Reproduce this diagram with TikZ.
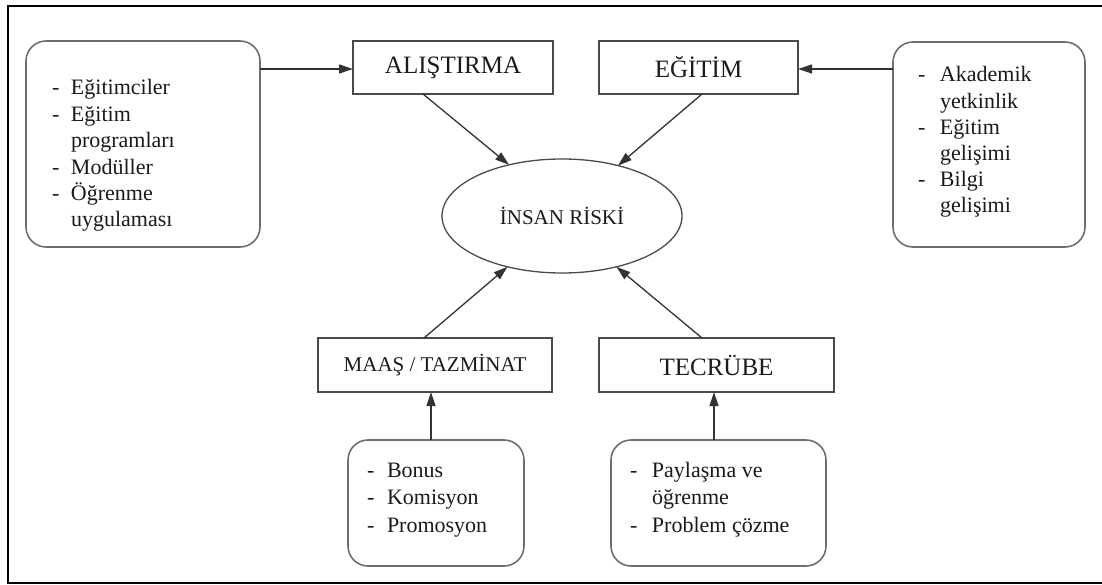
\documentclass[tikz,border=0pt]{standalone}
\usepackage{fontspec}
\setmainfont{Liberation Serif}
\usetikzlibrary{arrows.meta,shapes.geometric,calc}
\definecolor{txt}{HTML}{1A1A1A}
\definecolor{boxline}{HTML}{4A4A4A}
\definecolor{rline}{HTML}{6E6E6E}
\definecolor{arrline}{HTML}{333333}
\tikzset{
  rbox/.style={draw=boxline, line width=1.5pt, inner sep=0pt, outer sep=0pt, text=txt},
  listbox/.style={draw=rline, line width=1.6pt, rounded corners=20pt, inner sep=0pt, outer sep=0pt},
  listtext/.style={inner sep=0pt, outer sep=0pt, text=txt, anchor=base west, align=left},
  arr/.style={draw=arrline, line width=1.3pt, -{Triangle[length=14pt,width=9pt]}},
}
\begin{document}
\begin{tikzpicture}[x=1pt,y=-1pt]
\useasboundingbox (0,0) rectangle (1102,585);
% outer frame (right edge lies outside the picture)
\draw[line width=2pt, black] (1110,6) -- (8,6) -- (8,583) -- (1110,583);

% main nodes
\node[rbox, minimum width=200pt, minimum height=53pt, font=\fontsize{25}{30}\selectfont] (al) at (453,67.5) {ALIŞTIRMA};
\node[rbox, minimum width=199pt, minimum height=53pt, font=\fontsize{25}{30}\selectfont] (eg) at (698.5,67.5) {EĞİTİM};
\node[draw=boxline, line width=1.3pt, ellipse, inner sep=0pt, outer sep=0pt, minimum width=240pt, minimum height=114pt, text=txt, font=\fontsize{21}{25}\selectfont] (el) at (562,216) {İNSAN RİSKİ};
\node[rbox, minimum width=234pt, minimum height=54pt, font=\fontsize{21}{25}\selectfont] (ms) at (435,365) {MAAŞ / TAZMİNAT};
\node[rbox, minimum width=235pt, minimum height=54pt, font=\fontsize{25}{30}\selectfont] (tc) at (716.5,365) {TECRÜBE};

% rounded list boxes
\node[listbox, minimum width=234pt, minimum height=206pt] (lb) at (143,144) {};
\node[listbox, minimum width=192pt, minimum height=205pt] (rb) at (989,144.5) {};
\node[listbox, minimum width=176pt, minimum height=126pt] (pb) at (436,503) {};
\node[listbox, minimum width=215pt, minimum height=126pt] (tb) at (718.5,503) {};

% list texts
\node[listtext, font=\fontsize{22}{26.4}\selectfont] (lbt) at (52,95)
  {\begin{tabular}[t]{@{}p{19pt}@{}l@{}}
   - & Eğitimciler\\
   - & Eğitim\\
     & programları\\
   - & Modüller\\
   - & Öğrenme\\
     & uygulaması
   \end{tabular}};
\node[listtext, font=\fontsize{22}{26.2}\selectfont] (rbt) at (918,82)
  {\begin{tabular}[t]{@{}p{22pt}@{}l@{}}
   - & Akademik\\
     & yetkinlik\\
   - & Eğitim\\
     & gelişimi\\
   - & Bilgi\\
     & gelişimi
   \end{tabular}};
\node[listtext, font=\fontsize{22}{27.5}\selectfont] (pbt) at (367,477)
  {\begin{tabular}[t]{@{}p{20pt}@{}l@{}}
   - & Bonus\\
   - & Komisyon\\
   - & Promosyon
   \end{tabular}};
\node[listtext, font=\fontsize{22}{27.5}\selectfont] (tbt) at (630,477)
  {\begin{tabular}[t]{@{}p{22pt}@{}l@{}}
   - & Paylaşma ve\\
     & öğrenme\\
   - & Problem çözme
   \end{tabular}};

% connectors
\draw[arr] (lb.east |- 0,69) -- (al.west |- 0,69);
\draw[arr] (rb.west |- 0,69) -- (eg.east |- 0,69);
\draw[arr] ($(al.south)+(-30,0)$) -- (el.136.6);
\draw[arr] ($(eg.south)+(3.5,0)$) -- (el.42.8);
\draw[arr] ($(ms.north)+(-11,0)$) -- (el.223.4);
\draw[arr] ($(tc.north)+(-14.5,0)$) -- (el.317);
\draw[arr] ($(pb.north)+(-5,0)$) coordinate (pa) -- (pa |- ms.south);
\draw[arr] ($(tb.north)+(-4.5,0)$) coordinate (ta) -- (ta |- tc.south);
\end{tikzpicture}
\end{document}
